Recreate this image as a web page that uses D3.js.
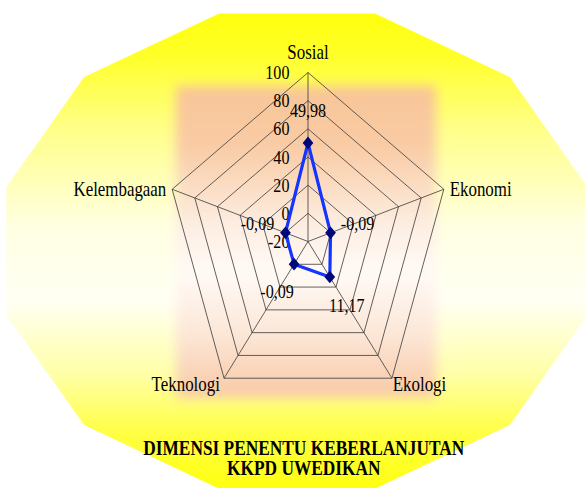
<!DOCTYPE html>
<html>
<head>
<meta charset="utf-8">
<script src="https://cdn.jsdelivr.net/npm/d3@7"></script>
<style>
html, body { margin: 0; padding: 0; background: #fff; }
svg { display: block; }
</style>
</head>
<body>
<div class="chart"></div>
<script>
/* Data
============================================= */
const CATEGORIES = ["Sosial", "Ekonomi", "Ekologi", "Teknologi", "Kelembagaan"];
const VALUES = [49.98, -0.09, 11.17, -0.09, -0.09];
const TICKS = [-20, 0, 20, 40, 60, 80, 100];
const TITLE_LINES = ["DIMENSI PENENTU KEBERLANJUTAN", "KKPD UWEDIKAN"];

/* Layout
============================================= */
const SVG_WIDTH = 585;
const SVG_HEIGHT = 488;
const CX = 308, CY = 241.5;
const SQUEEZE = 0.845;      // the chart is squeezed horizontally
const RADIUS = 169;
const FONT = "'Liberation Serif', 'Times New Roman', 'DejaVu Serif', serif";

// where each value label sits relative to its point (screen px)
const LABEL_OFFSETS = [[0, -33], [27, -9], [17, 28], [-17, 27], [-28, -9]];

var svg = d3.select(".chart")
    .append("svg")
    .attr("width", SVG_WIDTH)
    .attr("height", SVG_HEIGHT)
    .attr("font-family", FONT);

var defs = svg.append("defs");

// outer yellow dodecagon gradient
var bg = defs.append("linearGradient")
    .attr("id", "bgGrad")
    .attr("gradientUnits", "userSpaceOnUse")
    .attr("x1", 0).attr("y1", 5).attr("x2", 0).attr("y2", 497);
[[0, "#ffff08"], [0.1, "#ffff28"], [0.25, "#ffff88"], [0.45, "#ffffe2"],
 [0.6, "#fffff4"], [0.75, "#ffffa8"], [0.87, "#ffff44"], [1, "#ffff08"]]
    .forEach(function(s) {
        bg.append("stop").attr("offset", s[0]).attr("stop-color", s[1]);
    });

// orange plot area gradient
var og = defs.append("linearGradient")
    .attr("id", "plotGrad")
    .attr("x1", 0).attr("y1", 0).attr("x2", 0).attr("y2", 1);
[[0, "#f8c496"], [0.2, "#f9cca6"], [0.45, "#fdeee2"], [0.6, "#fffaf6"],
 [0.8, "#fce6d6"], [1, "#f8c8a4"]]
    .forEach(function(s) {
        og.append("stop").attr("offset", s[0]).attr("stop-color", s[1]);
    });

defs.append("filter")
    .attr("id", "soft")
    .attr("x", "-10%").attr("y", "-10%")
    .attr("width", "120%").attr("height", "120%")
    .append("feGaussianBlur")
    .attr("stdDeviation", 6);

/* Background shapes
============================================= */
var dodeca = d3.range(12).map(function(i) {
    var a = (15 + i * 30) * Math.PI / 180;
    return [297 + 301 * Math.cos(a), 251 - 246 * Math.sin(a)];
});

svg.append("path")
    .attr("d", "M" + dodeca.join("L") + "Z")
    .attr("fill", "url(#bgGrad)");

svg.append("rect")
    .attr("x", 176).attr("y", 86)
    .attr("width", 260).attr("height", 312)
    .attr("fill", "url(#plotGrad)")
    .attr("filter", "url(#soft)");

/* Radar
============================================= */
var chart = svg.append("g")
    .attr("transform", `translate(${CX}, ${CY}) scale(${SQUEEZE}, 1)`);

var rScale = d3.scaleLinear()
    .domain([TICKS[0], TICKS[TICKS.length - 1]])
    .range([0, RADIUS]);

var angle = d3.scalePoint()
    .domain(CATEGORIES)
    .range([0, 2 * Math.PI * (CATEGORIES.length - 1) / CATEGORIES.length]);

function pt(cat, r) {
    var a = angle(cat) - Math.PI / 2;
    return [r * Math.cos(a), r * Math.sin(a)];
}

// rings
chart.selectAll(".ring")
    .data(TICKS.slice(1))
    .enter()
    .append("path")
    .attr("class", "ring")
    .attr("d", function(t) {
        return "M" + CATEGORIES.map(function(c) { return pt(c, rScale(t)); }).join("L") + "Z";
    })
    .attr("fill", "none")
    .attr("stroke", "#3a3a3a")
    .attr("stroke-width", 0.8)
    .attr("vector-effect", "non-scaling-stroke");

// spokes
chart.selectAll(".spoke")
    .data(CATEGORIES)
    .enter()
    .append("line")
    .attr("class", "spoke")
    .attr("x1", 0).attr("y1", 0)
    .attr("x2", function(c) { return pt(c, RADIUS)[0]; })
    .attr("y2", function(c) { return pt(c, RADIUS)[1]; })
    .attr("stroke", "#3a3a3a")
    .attr("stroke-width", 0.8)
    .attr("vector-effect", "non-scaling-stroke");

// tick labels along the first axis
chart.selectAll(".tick-label")
    .data(TICKS)
    .enter()
    .append("text")
    .attr("class", "tick-label")
    .attr("x", -22)
    .attr("y", function(t) { return -rScale(t); })
    .attr("dy", "0.35em")
    .attr("text-anchor", "end")
    .attr("font-size", 19)
    .text(function(t) { return String(t).replace("\u2212", "-"); });

// category labels
chart.selectAll(".cat-label")
    .data(CATEGORIES)
    .enter()
    .append("text")
    .attr("class", "cat-label")
    .attr("x", function(c) {
        var p = pt(c, RADIUS);
        if (p[0] > 120) return p[0] + 7;
        if (p[0] > 10) return p[0] + 1;
        if (p[0] < -120) return p[0] - 7;
        if (p[0] < -10) return p[0] - 5;
        return p[0];
    })
    .attr("y", function(c) {
        var p = pt(c, RADIUS);
        if (p[1] < -100) return p[1] - 13.5;
        if (p[1] > 50) return p[1] + 6;
        return p[1];
    })
    .attr("dy", function(c) { return pt(c, RADIUS)[1] < -100 ? 0 : "0.35em"; })
    .attr("text-anchor", function(c) {
        var x = pt(c, RADIUS)[0];
        return x > 10 ? "start" : (x < -10 ? "end" : "middle");
    })
    .attr("font-size", 20)
    .text(function(c) { return c; });

// series line
var points = CATEGORIES.map(function(c, i) { return pt(c, rScale(VALUES[i])); });

chart.append("path")
    .attr("d", d3.line().curve(d3.curveLinearClosed)(points))
    .attr("fill", "none")
    .attr("stroke", "#1434ff")
    .attr("stroke-width", 3.2)
    .attr("stroke-linejoin", "round")
    .attr("vector-effect", "non-scaling-stroke");

// markers
chart.selectAll(".marker")
    .data(points)
    .enter()
    .append("path")
    .attr("class", "marker")
    .attr("d", d3.symbol().type(d3.symbolSquare).size(80))
    .attr("transform", function(p) { return `translate(${p[0]}, ${p[1]}) rotate(45)`; })
    .attr("fill", "#00087a");

// value labels
var fmt = d3.format(".2f");
chart.selectAll(".val-label")
    .data(points)
    .enter()
    .append("text")
    .attr("class", "val-label")
    .attr("x", function(p, i) { return p[0] + LABEL_OFFSETS[i][0] / SQUEEZE; })
    .attr("y", function(p, i) { return p[1] + LABEL_OFFSETS[i][1]; })
    .attr("dy", "0.35em")
    .attr("text-anchor", "middle")
    .attr("font-size", 19)
    .text(function(p, i) { return fmt(VALUES[i]).replace("\u2212", "-").replace(".", ","); });

// title
chart.selectAll(".title")
    .data(TITLE_LINES)
    .enter()
    .append("text")
    .attr("class", "title")
    .attr("x", -5)
    .attr("y", function(d, i) { return 213.5 + i * 20.5; })
    .attr("text-anchor", "middle")
    .attr("font-size", 20.5)
    .attr("font-weight", "bold")
    .text(function(d) { return d; });
</script>
</body>
</html>
